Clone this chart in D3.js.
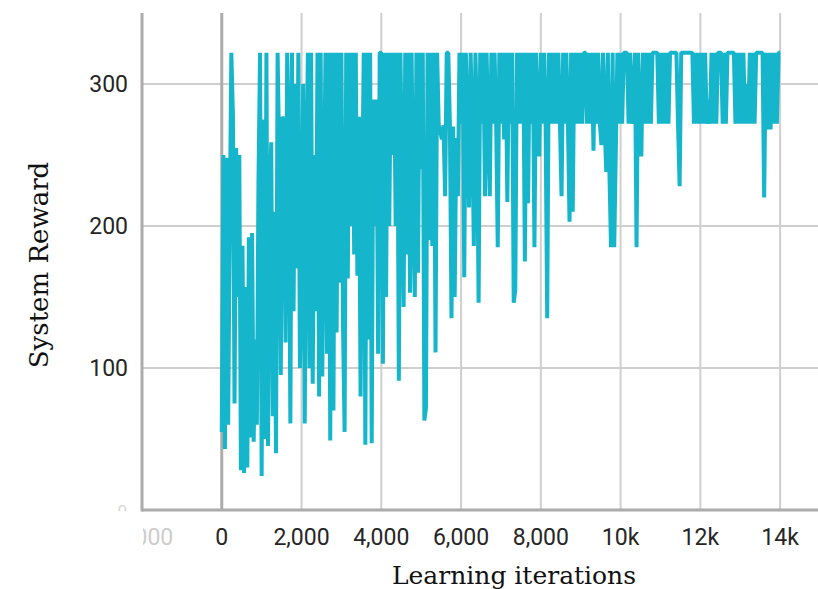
<!DOCTYPE html>
<html>
<head>
<meta charset="utf-8">
<script src="https://cdn.jsdelivr.net/npm/d3@7"></script>
<style>
  body { margin: 0; background: #fff; }
  svg { display: block; }
</style>
</head>
<body>
<div id="chart"></div>
<script>
// sampled every 40 learning iterations
const stepSize = 40;

const rewards0to2k = [
  55, 250, 43, 248, 60, 200, 322, 278, 75, 255,
  150, 250, 28, 186, 26, 157, 30, 192, 51, 195,
  48, 120, 60, 230, 322, 24, 275, 50, 322, 45,
  216, 259, 66, 210, 40, 322, 249, 95, 277, 274,
  118, 322, 260, 61, 322, 140, 300, 170, 322, 100
];
const rewards2to4k = [
  150, 300, 61, 240, 322, 100, 322, 89, 250, 140,
  322, 80, 322, 94, 200, 322, 110, 322, 49, 322,
  70, 322, 125, 322, 160, 322, 130, 55, 322, 163,
  322, 200, 322, 180, 322, 165, 277, 80, 220, 322,
  46, 322, 120, 322, 47, 289, 200, 289, 110, 322
];
const rewards4to6k = [
  322, 103, 322, 150, 322, 200, 322, 250, 322, 200,
  322, 91, 322, 230, 143, 322, 180, 322, 153, 322,
  210, 150, 322, 167, 322, 240, 322, 63, 72, 322,
  190, 322, 186, 322, 111, 322, 271, 266, 261, 271,
  221, 322, 322, 272, 135, 270, 150, 262, 221, 322
];
const rewards6to8k = [
  272, 322, 164, 322, 272, 213, 322, 272, 186, 322,
  272, 146, 322, 272, 322, 221, 322, 272, 221, 322,
  272, 322, 272, 185, 322, 272, 322, 261, 322, 217,
  322, 272, 322, 146, 155, 322, 272, 322, 272, 322,
  175, 322, 216, 322, 272, 322, 185, 322, 272, 249
];
const rewards8to10k = [
  322, 272, 322, 272, 135, 322, 272, 322, 272, 322,
  272, 322, 272, 221, 322, 272, 322, 272, 203, 322,
  210, 322, 272, 322, 272, 322, 272, 322, 322, 272,
  322, 272, 322, 253, 322, 272, 322, 272, 257, 322,
  272, 238, 322, 238, 185, 322, 185, 253, 322, 272
];
const rewards10to12k = [
  322, 272, 322, 322, 322, 272, 322, 272, 289, 322,
  185, 322, 272, 249, 322, 272, 322, 272, 322, 272,
  322, 322, 322, 322, 272, 322, 272, 322, 272, 322,
  272, 322, 322, 322, 322, 322, 272, 228, 322, 322,
  322, 322, 322, 322, 322, 322, 272, 322, 272, 322
];
const rewards12to14k = [
  272, 322, 272, 322, 272, 289, 272, 322, 272, 322,
  272, 322, 322, 322, 272, 322, 272, 322, 322, 322,
  322, 322, 272, 322, 272, 322, 272, 322, 272, 300,
  272, 322, 272, 322, 272, 322, 322, 322, 322, 322,
  220, 322, 268, 322, 268, 322, 272, 322, 272, 322,
  322
];

const xTicks = [-2000, 0, 2000, 4000, 6000, 8000, 10000, 12000, 14000];
const xTickLabels = ["-2,000", "0", "2,000", "4,000", "6,000", "8,000", "10k", "12k", "14k"];
const yTicks = [0, 100, 200, 300];
const yTickLabels = ["0", "100", "200", "300"];

const rewards = [].concat(rewards0to2k, rewards2to4k, rewards4to6k, rewards6to8k,
  rewards8to10k, rewards10to12k, rewards12to14k);
const data = rewards.map((v, i) => ({ iter: i * stepSize, reward: v }));

const width = 818;
const height = 589;
const plotLeft = 142;
const plotRight = 820;
const plotTop = 13;
const plotBottom = 510;

const svg = d3.select("#chart")
  .append("svg")
  .attr("width", width)
  .attr("height", height);

const x = d3.scaleLinear()
  .domain([-2000, 15000])
  .range([plotLeft, plotRight]);

const y = d3.scaleLinear()
  .domain([0, 350])
  .range([plotBottom, plotTop]);

const defs = svg.append("defs");
defs.append("clipPath").attr("id", "xclip")
  .append("rect").attr("x", plotLeft + 1).attr("y", 0).attr("width", width).attr("height", height);
defs.append("clipPath").attr("id", "yclip")
  .append("rect").attr("x", 0).attr("y", 0).attr("width", width).attr("height", plotBottom + 1);

// grid
svg.append("g")
  .selectAll("line")
  .data(yTicks.filter(d => d > 0))
  .enter()
  .append("line")
  .attr("x1", plotLeft)
  .attr("x2", width)
  .attr("y1", d => y(d))
  .attr("y2", d => y(d))
  .attr("stroke", "#cfcfcf")
  .attr("stroke-width", 2);

svg.append("g")
  .selectAll("line")
  .data(xTicks.filter(d => d > 0))
  .enter()
  .append("line")
  .attr("x1", d => x(d))
  .attr("x2", d => x(d))
  .attr("y1", plotTop)
  .attr("y2", plotBottom)
  .attr("stroke", "#cfcfcf")
  .attr("stroke-width", 2);

// zero line and axes
svg.append("line")
  .attr("x1", x(0)).attr("x2", x(0))
  .attr("y1", plotTop).attr("y2", plotBottom)
  .attr("stroke", "#acacac")
  .attr("stroke-width", 3);

svg.append("line")
  .attr("x1", plotLeft).attr("x2", plotLeft)
  .attr("y1", plotTop).attr("y2", plotBottom + 1.5)
  .attr("stroke", "#acacac")
  .attr("stroke-width", 3);

svg.append("line")
  .attr("x1", plotLeft).attr("x2", width)
  .attr("y1", plotBottom).attr("y2", plotBottom)
  .attr("stroke", "#acacac")
  .attr("stroke-width", 3);

// the series
const line = d3.line()
  .x(d => x(d.iter))
  .y(d => y(d.reward));

svg.append("path")
  .datum(data)
  .attr("d", line)
  .attr("fill", "none")
  .attr("stroke", "#15b5cb")
  .attr("stroke-width", 4)
  .attr("stroke-linejoin", "bevel");

// tick labels
svg.append("g")
  .attr("clip-path", "url(#xclip)")
  .selectAll("text")
  .data(xTicks)
  .enter()
  .append("text")
  .attr("x", d => x(d))
  .attr("y", 537)
  .attr("dy", "0.35em")
  .attr("text-anchor", "middle")
  .style("font-family", "Roboto, sans-serif")
  .style("font-size", "23px")
  .style("fill", d => d < 0 ? "#cdcdcd" : "#262626")
  .text((d, i) => xTickLabels[i]);

svg.append("g")
  .attr("clip-path", "url(#yclip)")
  .selectAll("text")
  .data(yTicks)
  .enter()
  .append("text")
  .attr("x", d => d === 0 ? 127 : 128)
  .attr("y", d => d === 0 ? y(d) + 1 : y(d))
  .attr("dy", "0.35em")
  .attr("text-anchor", "end")
  .style("font-family", "Roboto, sans-serif")
  .style("font-size", d => d === 0 ? "17px" : "23px")
  .style("fill", d => d === 0 ? "#d6d6d6" : "#262626")
  .text((d, i) => yTickLabels[i]);

// axis titles
svg.append("text")
  .attr("x", 514)
  .attr("y", 584)
  .attr("text-anchor", "middle")
  .style("font-family", "'DejaVu Serif', serif")
  .style("font-size", "25px")
  .style("fill", "#111")
  .text("Learning iterations");

svg.append("text")
  .attr("transform", `translate(48,265) rotate(-90)`)
  .attr("text-anchor", "middle")
  .style("font-family", "'DejaVu Serif', serif")
  .style("font-size", "26px")
  .style("fill", "#111")
  .text("System Reward");
</script>
</body>
</html>
